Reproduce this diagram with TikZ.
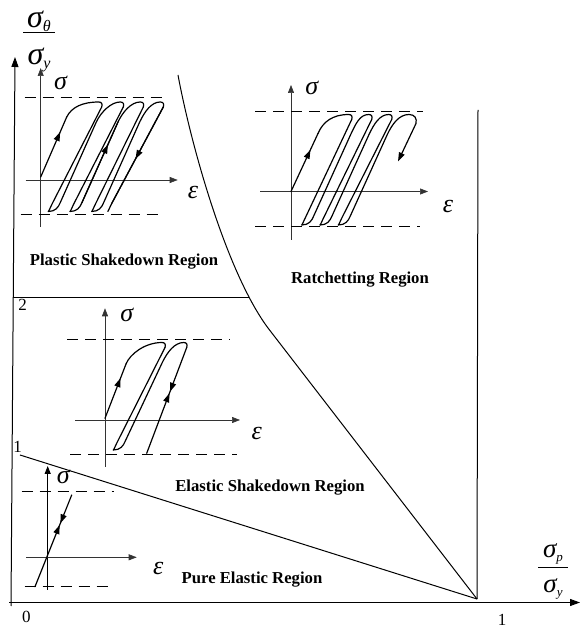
\documentclass[tikz,border=0pt]{standalone}
\usepackage{fontspec}
\setmainfont{Liberation Serif}
\usetikzlibrary{arrows.meta, positioning, decorations.markings}

\tikzset{
  main line/.style={line width=1pt},
  main axis/.style={line width=1pt, -{Triangle[length=10pt,width=7pt]}},
  inset axis/.style={black!80, line width=0.6pt, -{Triangle[length=8pt,width=6pt]}},
  limitline/.style={line width=1pt, dash pattern=on 11pt off 7pt},
  loopline/.style={line width=1.2pt, line cap=round, line join=round},
  tipmark/.style={postaction={decorate}, decoration={markings,
    mark=at position #1 with {\arrow{Triangle[length=9pt,width=6pt]}}}},
  twotips/.style 2 args={postaction={decorate}, decoration={markings,
    mark=at position #1 with {\arrow{Triangle[length=9pt,width=6pt]}},
    mark=at position #2 with {\arrowreversed{Triangle[length=9pt,width=6pt]}}}},
  region/.style={font=\fontsize{16.7}{20}\selectfont\bfseries},
  greek/.style={font=\fontsize{26}{28}\selectfont\itshape, inner sep=0pt},
  num/.style={font=\fontsize{17}{19}\selectfont, inner sep=0pt},
}

% loading branch: bottom tip #1 -> top tip #2 (uses \ylo, \yhi, \slx)
\newcommand{\loadbranch}[2]{%
  \draw[loopline] (#1,\ylo) .. controls (#1+7,\ylo) and (#1+10,\ylo+4) .. (#1+12,\ylo+9)
    -- (#1+12+\slx,\yhi-20) .. controls (#1+17+\slx,\yhi-9.5) and (#2-12,\yhi) .. (#2-3,\yhi)
    .. controls (#2,\yhi) and (#2+1,\yhi-2) .. (#2,\yhi-5);}
% unloading branch: top tip #1 -> bottom tip #2
\newcommand{\unloadbranch}[2]{%
  \draw[loopline] (#1,\yhi-5) -- (#2+4,\ylo+8) .. controls (#2+1.5,\ylo+3) and (#2+0.5,\ylo) .. (#2,\ylo);}
\newcommand{\lowsub}[2][16]{\raisebox{-4pt}{\fontsize{#1}{#1}\selectfont #2}}

\begin{document}
\begin{tikzpicture}[x=1pt,y=1pt]
\useasboundingbox (0,0) rectangle (581,630);

% main frame
\coordinate (ybot) at (11,24);
\coordinate (ytop) at (15,573);
\coordinate (xleft) at (9,27.5);
\coordinate (xright) at (580,27.5);
\coordinate (corner) at (477,31);
\coordinate (ps) at (249,332);
\coordinate (esd) at (20,175);

\draw[main axis] (ybot) -- (ytop);
\draw[main axis] (xleft) -- (xright);
\draw[main line] (178,555) .. controls (190,490) and (225,360) .. (268,302) -- (corner);
\draw[main line] (13.3,332) -- (ps);
\draw[main line] (esd) -- (corner);
\draw[main line] (478,520) -- (corner);

\node[num] (zero) at (26.5,13.5) {0};
\node[num] (one) at (502,10) {1};
\node[num] (two) at (22.5,325) {2};
\node[num] (onel) at (17.5,183) {1};

% axis labels
\node[anchor=base, font=\fontsize{32}{34}\selectfont\itshape, inner sep=0pt] (thnum) at (39,602) {σ\lowsub{θ}};
\draw[line width=0.9pt] (23,598) -- (55,598);
\node[anchor=base, font=\fontsize{32}{34}\selectfont\itshape, inner sep=0pt] (thden) at (39,565) {σ\lowsub{y}};
\node[anchor=base, font=\fontsize{27}{29}\selectfont\itshape, inner sep=0pt] (pnum) at (553,72) {σ\lowsub[13]{p}};
\draw[line width=0.9pt] (538,63) -- (568,63);
\node[anchor=base, font=\fontsize{27}{29}\selectfont\itshape, inner sep=0pt] (pden) at (553,37) {σ\lowsub[13]{y}};

% region names
\node[region] (psr) at (124,368) {Plastic Shakedown Region};
\node[region] (rr) at (360,350) {Ratchetting Region};
\node[region] (esr) at (270,142) {Elastic Shakedown Region};
\node[region] (per) at (252,50) {Pure Elastic Region};

% plastic shakedown loops
\begin{scope}[shift={(40.7,450)}]
  \def\ylo{-31.5}\def\yhi{78}\def\slx{36}
  \draw[inset axis] (0,-47) -- (0,112);
  \draw[inset axis] (-15,0) -- (137,0);
  \draw[limitline] (-16,82) -- (126,82);
  \draw[limitline] (-20,-35) -- (122,-35);
  \node[greek] (s1) at (19.8,97.5) {σ};
  \node[greek] (e1) at (152.3,-13) {ε};
  \draw[loopline, tipmark=0.75] (0,3) -- (26,63);
  \draw[loopline] (26,63) .. controls (31,73) and (42,78) .. (58,78) .. controls (61,78) and (62,76) .. (61,73);
  \unloadbranch{61}{7.6}
  \loadbranch{7.6}{82.6}
  \unloadbranch{82.6}{29.3}
  \loadbranch{29.3}{102.6}
  \unloadbranch{102.6}{51}
  \loadbranch{51}{122.6}
  \unloadbranch{122.6}{67}
  \draw[loopline, tipmark=0.72] (41.3,-22.5) -- (77.3,58);
  \draw[loopline, tipmark=0.54] (122.6,73) -- (71,-23.5);
\end{scope}

% ratchetting loops
\begin{scope}[shift={(291,438.5)}]
  \def\ylo{-33.5}\def\yhi{77}\def\slx{37}
  \draw[inset axis] (0,-48.5) -- (0,106.5);
  \draw[inset axis] (-31,0) -- (137,0);
  \draw[limitline] (-36,79.5) -- (132,79.5);
  \draw[limitline] (-36,-35) -- (129,-35);
  \node[greek] (s2) at (20.7,103.5) {σ};
  \node[greek] (e2) at (157,-15.5) {ε};
  \draw[loopline, tipmark=0.72] (0,0) -- (27,58);
  \draw[loopline] (27,58) .. controls (32,70) and (42,77) .. (57.7,77) .. controls (60.7,77) and (61.7,75) .. (60.7,72);
  \unloadbranch{60.7}{10.7}
  \loadbranch{10.7}{80.7}
  \unloadbranch{80.7}{29}
  \loadbranch{29}{100.7}
  \unloadbranch{100.7}{47.3}
  \draw[loopline, -{Triangle[length=9pt,width=6pt]}] (47.3,\ylo) .. controls (54.3,\ylo) and (57.3,-29.5) .. (59.3,-24.5)
    -- (96.3,57) .. controls (101.3,67.5) and (108,77) .. (118,77)
    .. controls (124,77) and (126,73) .. (125,68) -- (107,30);
\end{scope}

% elastic shakedown loop
\begin{scope}[shift={(105,210)}]
  \def\ylo{-30}\def\yhi{77.5}\def\slx{37}
  \draw[inset axis] (0,-46.7) -- (0,111.7);
  \draw[inset axis] (-30,0) -- (135,0);
  \draw[limitline] (-38,80) -- (125,80);
  \draw[limitline] (-35,-35) -- (132,-35);
  \node[greek] (s3) at (21.7,105) {σ};
  \node[greek] (e3) at (151.7,-13.3) {ε};
  \draw[loopline, tipmark=0.74] (0,1.7) -- (21,56);
  \draw[loopline] (21,56) .. controls (25,66) and (40,77.5) .. (57,77.5) .. controls (60,77.5) and (61,75.5) .. (60,72.5);
  \unloadbranch{60}{8.3}
  \loadbranch{8.3}{81.7}
  \draw[loopline, twotips={0.567}{0.582}] (41.7,-33.3) -- (81.7,72.5);
\end{scope}

% pure elastic line
\begin{scope}[shift={(47.7,72.7)}]
  \draw[inset axis, black, line width=1.2pt] (0,-32.7) -- (0,91.3);
  \draw[inset axis] (-21.7,0) -- (89,0);
  \draw[limitline] (-26,65.6) -- (66,65.6);
  \draw[limitline] (-23,-29.4) -- (67,-29.4);
  \node[greek] (s4) at (15.6,80.6) {σ};
  \node[greek] (e4) at (110.6,-11) {ε};
  \draw[loopline, twotips={0.673}{0.691}] (-12.7,-29.4) -- (24,62.3);
\end{scope}
\end{tikzpicture}
\end{document}
